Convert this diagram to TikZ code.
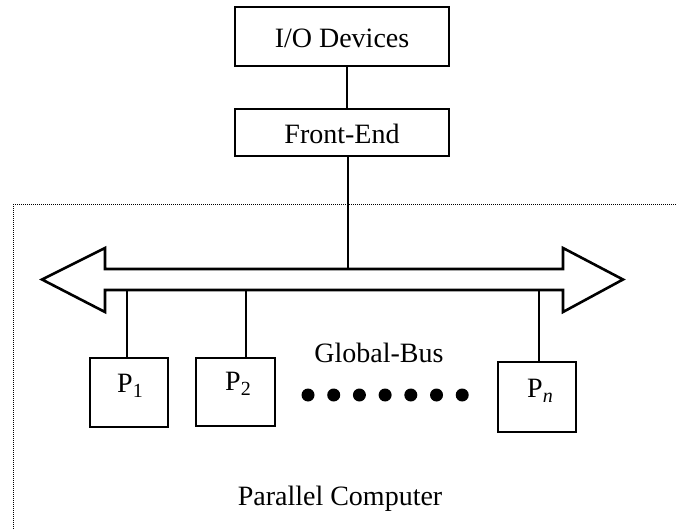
\documentclass[tikz,border=0pt]{standalone}
\usepackage{fontspec}
\setmainfont{Liberation Serif}
\begin{document}
\begin{tikzpicture}[x=1pt,y=-1pt,
  lbl/.style={font=\fontsize{28}{32}\selectfont, inner sep=0pt},
  box/.style={draw, line width=2pt, inner sep=0pt},
  pbox/.style={box, minimum width=78pt, minimum height=69pt},
  wire/.style={line width=1.6pt},
  bus/.style={draw, line width=2.6pt, line join=miter},
  frame/.style={densely dotted, line width=1pt},
  dot/.style={circle, fill, inner sep=0pt, minimum size=13pt}]
\useasboundingbox (0,0) rectangle (677,529);
% frame of the parallel computer
\draw[frame] (13,529) -- (13,205) -- (677,205);
% top boxes
\node[box, minimum width=214pt, minimum height=59pt] (io) at (342,36.5) {};
\node[lbl] (iot) at (342,38) {I/O Devices};
\node[box, minimum width=214pt, minimum height=47pt] (fe) at (342,133) {};
\node[lbl] (fet) at (342,134) {Front-End};
\draw[wire] (io.south -| 347,0) -- (fe.north -| 347,0);
% global bus
\draw[bus] (42,279.5) -- (105,248) -- (105,269) -- (563,269) -- (563,248)
  -- (623,279.5) -- (563,312) -- (563,290) -- (105,290) -- (105,312) -- cycle;
\coordinate (bustop) at (348,269);
\coordinate (b1) at (127,290);
\coordinate (b2) at (246,290);
\coordinate (bn) at (539,290);
\draw[wire] (fe.south -| bustop) -- (bustop);
% processors
\node[pbox] (p1) at (129,392.5) {};
\node[pbox, minimum width=79pt, minimum height=68pt] (p2) at (235.5,392) {};
\node[pbox, minimum height=70pt] (pn) at (537,397) {};
\node[lbl] (p1t) at (130,386) {P\raisebox{-5pt}{\fontsize{20}{24}\selectfont 1}};
\node[lbl] (p2t) at (238,384) {P\raisebox{-5pt}{\fontsize{20}{24}\selectfont 2}};
\node[lbl] (pnt) at (540,391) {P\raisebox{-5pt}{\fontsize{20}{24}\selectfont\itshape n}};
\draw[wire] (b1) -- (b1 |- p1.north);
\draw[wire] (b2) -- (b2 |- p2.north);
\draw[wire] (bn) -- (bn |- pn.north);
% dots
\foreach \k in {0,...,6} {
  \node[dot] (d\k) at (308+25.7*\k,395) {};
}
% labels
\node[lbl] (gb) at (379,353) {Global-Bus};
\node[lbl] (pc) at (340,499) {Parallel Computer};
\end{tikzpicture}
\end{document}
